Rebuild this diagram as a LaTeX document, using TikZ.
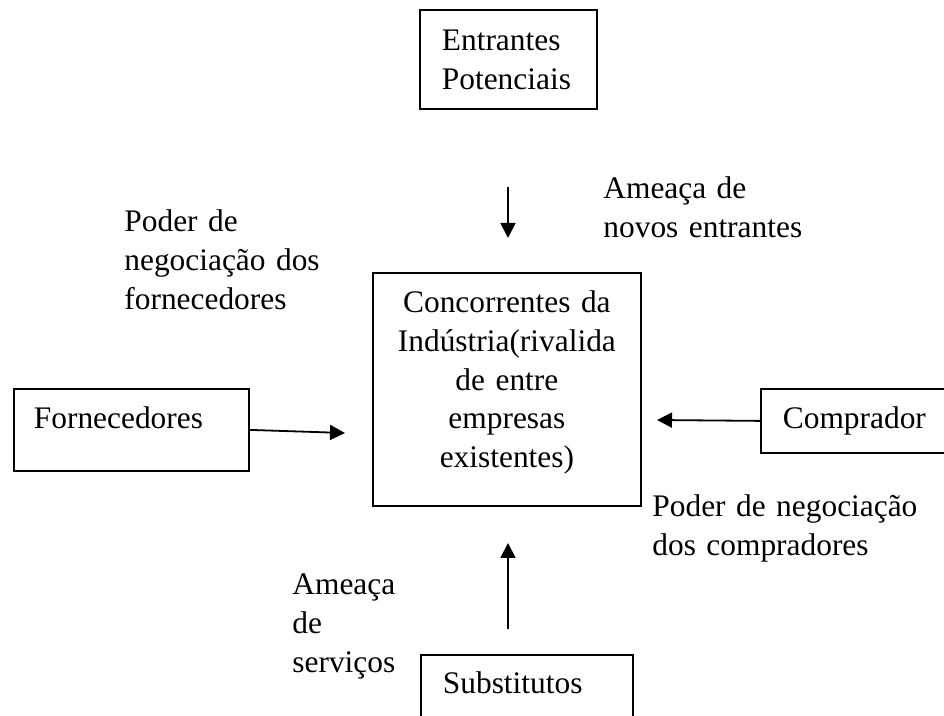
\documentclass[tikz,border=0pt]{standalone}
\usepackage{fontspec}
\setmainfont{Liberation Serif}
\usetikzlibrary{arrows.meta}

\tikzset{
  box/.style={draw, line width=0.9pt, rectangle, inner ysep=0pt,
    anchor=north west},
  lbl/.style={inner sep=0pt, anchor=base west, align=left, text width=140pt},
  seta/.style={-{Triangle[length=7.5pt,width=7.5pt]}, line width=0.9pt},
}

\begin{document}
\begin{tikzpicture}[x=0.5pt, y=-0.5pt,
  font={\fontsize{15.7pt}{19.3pt}\selectfont}]
\useasboundingbox (0,0) rectangle (944,716);

% Boxes
\node[box, align=center, text width=126pt, inner xsep=4pt,
  text height=20pt, text depth=96.5pt] (ind) at (372,272)
  {Concorrentes da\\Indústria(rivalida\\de entre\\empresas\\existentes)};
\node[box, align=left, text width=66.5pt, inner xsep=11pt,
  text height=20.5pt, text depth=29pt] (ent) at (419,9)
  {Entrantes\\Potenciais};
\node[box, align=left, text width=97.5pt, inner xsep=10pt,
  text height=20pt, text depth=21pt] (forn) at (13,388) {Fornecedores};
\node[box, align=left, text width=73pt, inner xsep=11pt,
  text height=20pt, text depth=12pt] (comp) at (760,388) {Comprador};
\node[box, align=left, text width=84pt, inner xsep=11pt,
  text height=19.5pt, text depth=33.5pt] (subs) at (420,654) {Substitutos};

% Arrow ends
\coordinate (entA) at (508,187);
\coordinate (entB) at (508,238);
\coordinate (subsA) at (508,629);
\coordinate (subsB) at (508,543);
\coordinate (fornB) at (345,433);
\coordinate (compB) at (657,420);

% Forces
\draw[seta] (entA) -- (entB);
\draw[seta] (subsA) -- (subsB);
\draw[seta] (forn.east) -- (fornB);
\draw[seta] (comp.west) -- (compB);

% Labels
\node[lbl] (novos) at (603,199) {Ameaça de\\novos entrantes};
\node[lbl] (pforn) at (124,232) {Poder de\\negociação dos\\fornecedores};
\node[lbl] (pcomp) at (652,517) {Poder de negociação\\dos compradores};
\node[lbl] (serv) at (292,595) {Ameaça\\de\\serviços};
\end{tikzpicture}
\end{document}
